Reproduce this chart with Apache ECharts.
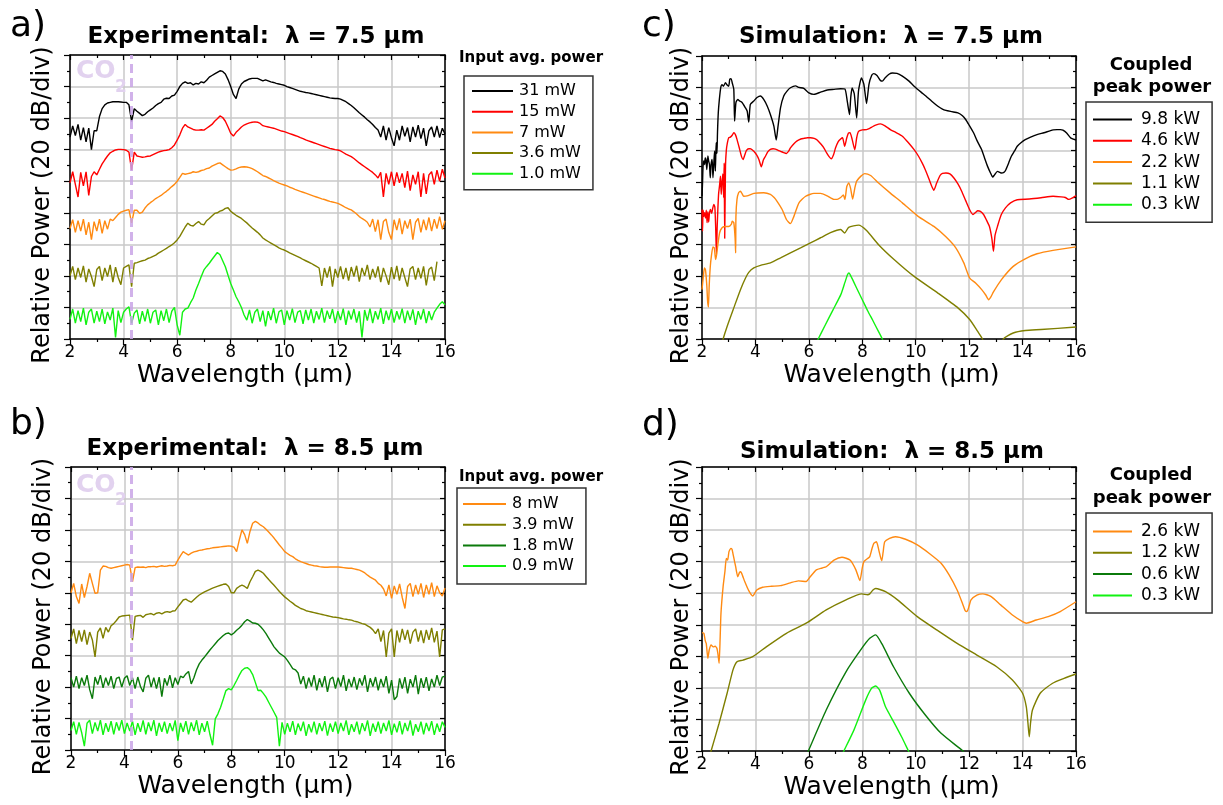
<!DOCTYPE html>
<html>
<head>
<meta charset="utf-8">
<script src="https://cdn.jsdelivr.net/npm/echarts@6/dist/echarts.min.js"></script>
<style>
  html, body { margin: 0; padding: 0; background: #fff; }
  #chart { width: 1223px; height: 805px; }
</style>
</head>
<body>
<div id="chart"></div>
<script>
// ---------------------------------------------------------------------------
// Supercontinuum spectra: measured (a, b) and simulated (c, d).
// Vertical scale is relative power in divisions of 20 dB, traces offset.
// ---------------------------------------------------------------------------
const FONT = "'DejaVu Sans', Verdana, sans-serif";

// Measured spectra are sampled on a regular wavelength grid (µm)
const WL_START = 2.0;
const WL_STEP = 0.1;
const CO2_BAND = 4.27;            // CO2 absorption line (µm)
const X_TICKS = [2, 4, 6, 8, 10, 12, 14, 16];

// ---- (a) Experimental, pump 7.5 µm ----------------------------------------
const EXP75_NAMES = ['31 mW', '15 mW', '7 mW', '3.6 mW', '1.0 mW'];
const EXP75_31MW = [
  6.4, 6.75, 6.45, 6.8, 6.3, 6.7, 6.25, 6.68, 6.0, 6.6,
  6.6, 7.05, 7.3, 7.42, 7.48, 7.5, 7.52, 7.52, 7.52, 7.51,
  7.5, 7.5, 7.42, 6.9, 7.3, 7.22, 7.15, 7.08, 7.12, 7.2,
  7.26, 7.32, 7.4, 7.46, 7.5, 7.6, 7.63, 7.62, 7.7, 7.73,
  7.85, 8.0, 8.1, 8.15, 8.1, 8.12, 8.05, 8.1, 8.08, 8.15,
  8.12, 8.2, 8.3, 8.35, 8.4, 8.45, 8.5, 8.48, 8.4, 8.22,
  8.0, 7.75, 7.62, 7.92, 8.08, 8.16, 8.2, 8.24, 8.26, 8.26,
  8.26, 8.22, 8.18, 8.21, 8.18, 8.15, 8.13, 8.1, 8.08, 8.06,
  8.04, 8.0, 7.97, 7.94, 7.91, 7.88, 7.85, 7.83, 7.81, 7.8,
  7.78, 7.76, 7.74, 7.72, 7.7, 7.68, 7.66, 7.64, 7.63, 7.62,
  7.62, 7.6, 7.56, 7.52, 7.46, 7.4, 7.33, 7.25, 7.17, 7.1,
  7.03, 6.95, 6.88, 6.8, 6.7, 6.62, 6.4, 6.75, 6.3, 6.7,
  6.38, 6.12, 6.62, 6.3, 6.75, 6.42, 6.7, 6.25, 6.72, 6.4,
  6.78, 6.35, 6.68, 6.12, 6.6, 6.72, 6.4, 6.75, 6.38, 6.68,
  6.5
];
const EXP75_15MW = [
  4.95, 5.3, 4.9, 4.5, 5.28, 4.85, 5.3, 4.55, 5.15, 5.3,
  5.2, 5.38, 5.55, 5.68, 5.8, 5.9, 5.95, 5.99, 6.01, 6.01,
  6.0, 5.98, 5.92, 5.35, 5.92, 5.8, 5.78, 5.76, 5.77, 5.79,
  5.8, 5.84, 5.88, 5.92, 5.95, 5.97, 5.98, 6.0, 6.06, 6.15,
  6.3, 6.47, 6.68, 6.8, 6.72, 6.68, 6.64, 6.62, 6.62, 6.63,
  6.62, 6.68, 6.74, 6.8, 6.9, 6.98, 7.07, 7.02, 6.9, 6.72,
  6.52, 6.43, 6.55, 6.63, 6.72, 6.78, 6.82, 6.85, 6.87, 6.88,
  6.87, 6.83, 6.76, 6.74, 6.72, 6.7, 6.68, 6.65, 6.62, 6.59,
  6.57, 6.54, 6.51, 6.48, 6.45, 6.42, 6.38, 6.35, 6.31, 6.28,
  6.25, 6.22, 6.19, 6.16, 6.13, 6.1, 6.07, 6.04, 6.02, 6.0,
  5.99, 5.96, 5.91, 5.86, 5.82, 5.78, 5.72, 5.65, 5.58, 5.52,
  5.46, 5.4, 5.34, 5.28, 5.2, 5.1, 5.28, 4.5, 5.25, 4.9,
  5.3, 4.85, 5.28, 4.95, 5.25, 4.8, 5.32, 4.7, 5.2, 4.9,
  5.3, 4.5, 5.25, 4.6, 5.2, 5.3, 4.9, 5.35, 5.0, 5.38,
  5.1
];
const EXP75_7MW = [
  3.5, 3.78, 3.38, 3.75, 3.42, 3.8, 3.3, 3.7, 3.15, 3.72,
  3.42, 3.8, 3.35, 3.75, 3.48, 3.8, 3.75, 3.85, 3.95, 4.02,
  4.05, 4.08, 4.1, 3.68, 4.08, 4.08, 3.98, 4.02, 4.15, 4.25,
  4.32, 4.38, 4.45, 4.5, 4.55, 4.62, 4.68, 4.75, 4.83, 4.9,
  5.0, 5.12, 5.25, 5.22, 5.24, 5.26, 5.3, 5.28, 5.3, 5.34,
  5.36, 5.4, 5.42, 5.48, 5.52, 5.56, 5.58, 5.52, 5.46, 5.4,
  5.35, 5.36, 5.39, 5.43, 5.45, 5.46, 5.45, 5.43, 5.4, 5.35,
  5.3, 5.24, 5.18, 5.15, 5.11, 5.07, 5.02, 4.98, 4.94, 4.91,
  4.88, 4.85, 4.81, 4.78, 4.74, 4.71, 4.68, 4.65, 4.62, 4.59,
  4.56, 4.53, 4.5, 4.47, 4.44, 4.42, 4.39, 4.36, 4.34, 4.32,
  4.3, 4.26, 4.21, 4.16, 4.12, 4.09, 4.03, 3.96, 3.88, 3.82,
  3.77, 3.7, 3.55, 3.8, 3.4, 3.78, 3.15, 3.72, 3.8, 3.38,
  3.15, 3.78, 3.45, 3.82, 3.32, 3.75, 3.5, 3.8, 3.15, 3.7,
  3.82, 3.38, 3.78, 3.45, 3.85, 3.42, 3.8, 3.5, 3.88, 3.48,
  3.75
];
const EXP75_3P6MW = [
  2.0, 2.3, 1.88, 2.25, 1.95, 2.32, 1.8, 2.22, 1.98, 1.66,
  2.2, 2.3, 1.85, 2.25, 1.98, 2.35, 1.8, 2.28, 1.95, 1.72,
  2.25, 2.3, 2.35, 1.66, 2.4, 2.42, 2.45, 2.48, 2.5, 2.55,
  2.58, 2.62, 2.66, 2.72, 2.77, 2.82, 2.87, 2.93, 2.98, 3.05,
  3.14, 3.25, 3.4, 3.55, 3.67, 3.6, 3.58, 3.66, 3.72, 3.64,
  3.62, 3.75, 3.82, 3.9, 3.98, 4.0, 4.05, 4.08, 4.14, 4.16,
  4.05, 3.98, 3.92, 3.87, 3.82, 3.75, 3.68, 3.6, 3.52, 3.45,
  3.38, 3.3, 3.2, 3.14, 3.09, 3.04, 2.99, 2.94, 2.89, 2.85,
  2.82, 2.78, 2.73, 2.69, 2.65, 2.61, 2.57, 2.52, 2.48, 2.44,
  2.4, 2.35, 2.3, 2.25, 1.68, 2.25, 1.95, 2.3, 1.66, 2.22,
  1.95, 2.3, 1.9, 2.25, 1.85, 2.28, 1.98, 2.32, 1.82, 2.25,
  2.0, 2.35, 1.88, 2.22, 1.95, 2.3, 1.8, 2.25, 2.0, 1.72,
  2.28, 1.9, 2.32, 1.85, 2.25, 1.95, 1.66, 2.22, 2.3, 1.88,
  2.25, 1.92, 2.3, 1.7, 2.2, 2.28, 1.85, 2.45, null, null,
  null
];
const EXP75_1MW = [
  0.62, 0.95, 0.5, 0.9, 0.55, 0.98, 0.45, 0.85, 0.95, 0.5,
  0.88, 0.55, 0.95, 0.48, 0.86, 0.6, 0.98, 0.05, 0.9, 0.52,
  0.85, 0.95, 1.02, 0.5, 0.82, 0.92, 0.48, 0.88, 0.56, 0.95,
  0.5, 0.85, 0.92, 0.45, 0.9, 0.58, 0.95, 0.52, 0.88, 1.0,
  0.45, 0.12, 0.85, 0.95, 0.98, 1.15, 1.3, 1.55, 1.76, 1.98,
  2.19, 2.3, 2.4, 2.52, 2.63, 2.74, 2.67, 2.48, 2.29, 2.02,
  1.76, 1.55, 1.34, 1.18, 1.0, 0.76, 0.6, 0.92, 0.5, 0.85,
  0.95, 0.55, 0.9, 0.4, 0.88, 0.6, 0.98, 0.5, 0.86, 0.92,
  0.45, 0.9, 0.6, 0.96, 0.52, 0.85, 0.9, 0.48, 0.92, 0.6,
  0.95, 0.5, 0.88, 0.62, 0.98, 0.52, 0.9, 0.64, 0.95, 0.5,
  0.88, 0.6, 0.96, 0.45, 0.9, 0.62, 0.95, 0.52, 0.88, 0.05,
  0.92, 0.58, 0.96, 0.5, 0.88, 0.62, 0.98, 0.48, 0.9, 0.6,
  0.95, 0.52, 0.88, 0.62, 0.96, 0.5, 0.9, 0.6, 0.94, 0.45,
  0.88, 0.62, 0.95, 0.5, 0.88, 0.6, 0.85, 0.98, 1.1, 1.18,
  1.08
];

// ---- (b) Experimental, pump 8.5 µm ----------------------------------------
const EXP85_NAMES = ['8 mW', '3.9 mW', '1.8 mW', '0.9 mW'];
const EXP85_8MW = [
  5.0, 5.3, 4.88, 4.66, 5.28, 4.85, 5.2, 5.62, 5.3, 4.98,
  5.0, 5.72, 5.85, 5.84, 5.8, 5.78, 5.8, 5.82, 5.84, 5.86,
  5.88, 5.9, 5.88, 5.35, 5.8, 5.82, 5.81, 5.82, 5.8, 5.83,
  5.83, 5.84, 5.82, 5.84, 5.86, 5.84, 5.85, 5.87, 5.86, 5.88,
  6.04, 6.18, 6.31, 6.25, 6.2, 6.26, 6.3, 6.32, 6.35, 6.36,
  6.38, 6.4, 6.41, 6.43, 6.44, 6.45, 6.46, 6.47, 6.48, 6.49,
  6.48, 6.45, 6.31, 6.68, 7.0, 6.85, 6.57, 6.95, 7.21, 7.27,
  7.22, 7.15, 7.1, 7.02, 6.93, 6.84, 6.74, 6.63, 6.52, 6.42,
  6.31, 6.25, 6.19, 6.15, 6.08, 6.03, 5.99, 5.96, 5.93, 5.9,
  5.88, 5.86, 5.85, 5.83, 5.82, 5.81, 5.81, 5.82, 5.82, 5.82,
  5.82, 5.81, 5.8, 5.79, 5.78, 5.78, 5.76, 5.74, 5.72, 5.68,
  5.63, 5.56, 5.5, 5.45, 5.4, 5.3, 5.24, 5.12, 4.9, 5.25,
  4.82, 5.22, 4.95, 5.28, 4.85, 4.5, 5.2, 5.3, 4.88, 5.25,
  4.95, 5.3, 4.85, 5.25, 4.95, 5.32, 4.88, 5.22, 5.0, 4.9,
  5.15
];
const EXP85_3P9MW = [
  3.55, 3.85, 3.38, 3.8, 3.45, 3.82, 3.35, 3.75, 3.5, 2.96,
  3.75, 3.88, 3.55, 3.9, 3.75, 3.95, 4.02, 4.12, 4.23, 4.26,
  4.27, 4.28, 4.29, 3.49, 4.25, 4.27, 4.28, 4.22, 4.3, 4.32,
  4.34, 4.3, 4.35, 4.37, 4.33, 4.38, 4.4, 4.38, 4.42, 4.43,
  4.55, 4.66, 4.77, 4.8, 4.74, 4.7, 4.78, 4.86, 4.93, 4.98,
  5.03, 5.07, 5.11, 5.15, 5.18, 5.21, 5.24, 5.27, 5.28, 5.2,
  5.0, 5.0, 5.14, 5.2, 5.24, 5.2, 5.14, 5.35, 5.51, 5.68,
  5.72, 5.68, 5.62, 5.52, 5.42, 5.33, 5.24, 5.14, 5.04, 4.95,
  4.87, 4.8, 4.73, 4.67, 4.6, 4.55, 4.5, 4.47, 4.43, 4.41,
  4.39, 4.37, 4.35, 4.33, 4.31, 4.29, 4.27, 4.25, 4.23, 4.22,
  4.21, 4.19, 4.17, 4.16, 4.14, 4.13, 4.1, 4.08, 4.05, 4.02,
  4.0, 3.95, 3.9, 3.82, 3.7, 3.85, 3.45, 3.8, 2.96, 3.72,
  3.85, 2.96, 3.8, 3.42, 3.85, 3.5, 3.82, 3.38, 3.75, 3.85,
  3.45, 3.8, 3.4, 3.82, 3.5, 3.88, 3.42, 3.78, 2.96, 3.82,
  3.85
];
const EXP85_1P8MW = [
  2.3, 2.0, 2.35, 1.95, 2.3, 2.05, 2.38, 1.92, 1.63, 2.32,
  2.08, 2.38, 1.98, 2.3, 2.05, 2.35, 1.95, 2.28, 2.32, 2.0,
  2.28, 2.36, 2.05, 2.3, 1.95, 2.32, 2.02, 1.85, 2.28, 2.38,
  2.0, 2.3, 1.95, 2.32, 1.7, 2.28, 2.05, 2.38, 1.98, 2.3,
  2.08, 2.35, 2.3, 2.42, 2.5, 2.1, 2.3, 2.55, 2.74, 2.86,
  2.96, 3.07, 3.18, 3.28, 3.38, 3.48, 3.56, 3.64, 3.7, 3.72,
  3.66, 3.72, 3.81, 3.88, 3.97, 4.08, 4.15, 4.1, 4.04, 4.03,
  4.0, 3.92, 3.82, 3.7, 3.56, 3.42, 3.28, 3.18, 3.08, 3.02,
  2.96, 2.85, 2.72, 2.59, 2.55, 2.45, 2.1, 2.35, 1.95, 2.3,
  2.02, 2.38, 1.9, 2.28, 2.0, 2.35, 1.85, 2.25, 2.32, 1.95,
  2.3, 2.02, 2.38, 1.88, 2.26, 2.0, 2.32, 1.92, 2.28, 2.05,
  2.38, 1.85, 2.28, 2.02, 2.32, 1.9, 2.26, 2.0, 2.35, 1.8,
  2.22, 1.6, 1.7, 2.28, 1.95, 2.32, 1.8, 2.25, 2.0, 2.38,
  1.78, 2.28, 1.98, 2.32, 1.88, 2.26, 2.0, 2.38, 2.05, 2.32,
  2.35
];
const EXP85_0P9MW = [
  0.62, 0.9, 0.5, 0.88, 0.55, 0.12, 0.85, 0.95, 0.52, 0.88,
  0.6, 0.95, 0.48, 0.85, 0.58, 0.92, 0.5, 0.88, 0.62, 0.95,
  0.52, 0.86, 0.6, 0.92, 0.48, 0.85, 0.58, 0.94, 0.5, 0.88,
  0.6, 0.95, 0.45, 0.86, 0.58, 0.9, 0.52, 0.85, 0.6, 0.94,
  0.3, 0.86, 0.58, 0.92, 0.5, 0.88, 0.6, 0.95, 0.48, 0.85,
  0.58, 0.92, 0.5, 0.15, 0.99, 1.15, 1.36, 1.62, 1.89, 1.95,
  1.91, 2.05, 2.21, 2.38, 2.53, 2.6, 2.62, 2.55, 2.4, 2.15,
  1.89, 1.9, 1.8, 1.68, 1.52, 1.36, 1.2, 1.04, 0.12, 0.88,
  0.5, 0.85, 0.58, 0.92, 0.48, 0.84, 0.6, 0.9, 0.45, 0.82,
  0.56, 0.9, 0.5, 0.85, 0.6, 0.92, 0.46, 0.84, 0.58, 0.9,
  0.52, 0.86, 0.6, 0.94, 0.48, 0.82, 0.58, 0.9, 0.5, 0.85,
  0.6, 0.94, 0.45, 0.84, 0.58, 0.9, 0.52, 0.86, 0.6, 0.94,
  0.48, 0.84, 0.56, 0.92, 0.5, 0.86, 0.6, 0.94, 0.46, 0.82,
  0.58, 0.9, 0.5, 0.86, 0.6, 0.92, 0.48, 0.84, 0.58, 0.9,
  0.72
];

// ---- (c) Simulation, pump 7.5 µm: [wavelength µm, divisions] -------------
const SIM75_NAMES = ['9.8 kW', '4.6 kW', '2.2 kW', '1.1 kW', '0.3 kW'];
const SIM75_9P8KW = [
  [2.00,4.54],[2.02,4.97],[2.04,5.5],[2.07,5.66],[2.10,5.55],[2.12,5.76],[2.15,5.7],[2.18,5.39],
  [2.22,5.82],[2.25,5.66],[2.28,5.55],[2.31,5.13],[2.34,5.55],[2.38,5.71],[2.41,5.13],[2.44,5.55],
  [2.47,5.98],[2.50,5.34],[2.53,6.24],[2.56,5.9],[2.58,6.56],[2.61,7.2],[2.65,7.62],[2.70,7.99],
  [2.75,8.09],[2.80,8.04],[2.88,8.15],[2.94,8.08],[3.00,8.04],[3.04,8.26],[3.09,8.28],[3.13,8.15],
  [3.19,7.94],[3.22,6.93],[3.27,7.52],[3.34,7.62],[3.41,7.57],[3.5,7.52],[3.62,7.36],[3.69,7.25],
  [3.75,6.9],[3.81,7.46],[3.94,7.57],[4.06,7.68],[4.19,7.73],[4.31,7.62],[4.44,7.41],[4.56,7.14],
  [4.69,6.77],[4.78,6.33],[4.84,6.72],[4.94,7.36],[5.06,7.73],[5.19,7.89],[5.31,7.99],[5.5,8.05],
  [5.63,8.0],[5.81,7.97],[6.0,7.83],[6.19,7.78],[6.44,7.85],[6.69,7.92],[6.94,7.94],[7.19,7.96],
  [7.35,7.95],[7.44,7.55],[7.52,7.14],[7.57,7.7],[7.62,7.98],[7.7,7.8],[7.79,7.03],[7.86,7.9],
  [7.97,8.3],[8.06,8.1],[8.16,7.49],[8.25,8.1],[8.35,8.38],[8.43,8.44],[8.55,8.38],[8.68,8.22],
  [8.75,8.2],[8.85,8.3],[9.0,8.42],[9.13,8.46],[9.3,8.45],[9.5,8.36],[9.75,8.2],[9.94,8.04],
  [10.2,7.85],[10.39,7.72],[10.6,7.56],[10.83,7.4],[11.0,7.31],[11.13,7.27],[11.35,7.23],[11.58,7.19],
  [11.75,7.1],[11.87,6.98],[12.0,6.8],[12.17,6.55],[12.3,6.3],[12.47,6.02],[12.6,5.7],[12.69,5.49],
  [12.8,5.28],[12.88,5.15],[12.95,5.22],[13.06,5.33],[13.15,5.3],[13.21,5.28],[13.3,5.3],[13.36,5.36],
  [13.48,5.6],[13.58,5.81],[13.7,5.98],[13.8,6.13],[13.95,6.25],[14.1,6.34],[14.3,6.42],[14.54,6.5],
  [14.8,6.56],[14.99,6.61],[15.15,6.65],[15.29,6.66],[15.42,6.66],[15.51,6.64],[15.65,6.55],[15.81,6.39],
  [16.0,6.33]
];
const SIM75_4P6KW = [
  [2.0,4.12],[2.02,3.43],[2.04,4.1],[2.07,3.9],[2.10,4.02],[2.13,3.85],[2.16,4.1],[2.19,3.7],
  [2.22,4.05],[2.25,3.72],[2.28,4.0],[2.32,4.12],[2.36,4.0],[2.40,4.15],[2.44,4.28],[2.48,4.2],
  [2.51,3.6],[2.54,2.69],[2.57,3.6],[2.62,4.6],[2.66,4.9],[2.69,5.18],[2.72,4.6],[2.75,5.0],
  [2.78,5.25],[2.81,4.5],[2.83,5.6],[2.85,3.2],[2.88,5.5],[2.91,6.0],[2.95,6.24],[3.0,6.4],
  [3.06,6.42],[3.13,6.48],[3.19,6.56],[3.25,6.5],[3.31,6.35],[3.41,6.03],[3.48,5.8],[3.54,5.71],
  [3.6,5.85],[3.66,5.99],[3.75,6.05],[3.81,6.05],[3.94,5.97],[4.05,5.85],[4.13,5.71],[4.22,5.48],
  [4.3,5.7],[4.38,5.82],[4.46,5.95],[4.56,6.03],[4.66,6.05],[4.75,6.04],[4.85,6.0],[4.94,5.97],
  [5.05,5.93],[5.16,5.9],[5.25,5.98],[5.31,6.08],[5.45,6.22],[5.56,6.3],[5.7,6.36],[5.81,6.38],
  [5.95,6.4],[6.06,6.4],[6.2,6.38],[6.31,6.33],[6.45,6.2],[6.56,6.08],[6.66,5.93],[6.75,5.81],
  [6.84,5.73],[6.92,5.85],[7.0,6.08],[7.1,6.28],[7.19,6.36],[7.26,6.4],[7.34,6.13],[7.42,6.4],
  [7.48,6.55],[7.54,6.56],[7.62,6.35],[7.72,6.02],[7.79,6.4],[7.86,6.6],[8.0,6.65],[8.16,6.66],
  [8.28,6.7],[8.38,6.75],[8.5,6.8],[8.68,6.84],[8.85,6.78],[9.05,6.66],[9.25,6.57],[9.5,6.45],
  [9.72,6.25],[9.94,6.02],[10.1,5.82],[10.24,5.6],[10.35,5.4],[10.46,5.17],[10.57,4.92],[10.68,4.73],
  [10.78,4.95],[10.91,5.2],[11.0,5.27],[11.13,5.28],[11.28,5.25],[11.43,5.12],[11.58,4.93],[11.72,4.7],
  [11.87,4.4],[12.02,4.11],[12.14,3.96],[12.25,4.03],[12.32,4.08],[12.42,4.06],[12.54,3.96],[12.65,3.78],
  [12.76,3.58],[12.85,3.2],[12.91,2.79],[12.97,3.3],[13.06,3.58],[13.2,3.95],[13.36,4.17],[13.55,4.33],
  [13.8,4.43],[14.25,4.45],[14.69,4.49],[15.14,4.54],[15.44,4.52],[15.6,4.5],[15.73,4.44],[15.85,4.48],
  [16.0,4.56]
];
const SIM75_2P2KW = [
  [2.0,1.57],[2.04,1.9],[2.09,2.26],[2.13,2.2],[2.18,1.7],[2.21,1.2],[2.24,1.02],[2.27,1.7],
  [2.31,2.3],[2.35,2.63],[2.41,2.93],[2.46,2.9],[2.51,2.53],[2.55,2.7],[2.59,2.98],[2.66,3.38],
  [2.75,3.54],[2.88,3.58],[3.0,3.58],[3.1,3.65],[3.13,3.75],[3.19,3.7],[3.24,3.2],[3.26,2.74],
  [3.27,3.9],[3.31,4.44],[3.37,4.65],[3.44,4.7],[3.5,4.62],[3.56,4.54],[3.69,4.55],[3.94,4.63],
  [4.31,4.65],[4.56,4.6],[4.7,4.5],[4.81,4.38],[5.0,4.12],[5.16,3.8],[5.31,3.67],[5.44,3.9],
  [5.63,4.33],[5.88,4.54],[6.19,4.63],[6.44,4.63],[6.69,4.55],[6.94,4.44],[7.06,4.44],[7.19,4.5],
  [7.29,4.58],[7.35,4.44],[7.42,4.85],[7.49,4.96],[7.56,4.8],[7.64,4.45],[7.72,4.8],[7.79,5.02],
  [7.95,5.18],[8.09,5.26],[8.31,5.2],[8.61,4.96],[9.05,4.64],[9.5,4.33],[10.09,3.9],[10.68,3.58],
  [11.13,3.25],[11.5,2.9],[11.8,2.42],[12.02,1.94],[12.24,1.78],[12.47,1.57],[12.62,1.4],[12.73,1.25],
  [12.82,1.35],[12.91,1.5],[13.21,1.89],[13.65,2.31],[14.1,2.55],[14.54,2.71],[15.14,2.82],[16.0,2.93]
];
const SIM75_1P1KW = [
  [2.7,-0.3],[2.79,0.0],[2.94,0.4],[3.19,0.99],[3.44,1.57],[3.63,1.94],[3.75,2.12],[3.94,2.26],
  [4.19,2.34],[4.56,2.42],[4.94,2.58],[5.31,2.74],[5.69,2.9],[6.06,3.06],[6.44,3.22],[6.81,3.38],
  [7.19,3.48],[7.34,3.37],[7.49,3.55],[7.86,3.62],[8.16,3.45],[8.61,3.0],[9.2,2.52],[9.94,1.99],
  [10.83,1.46],[11.58,0.99],[12.02,0.62],[12.32,0.24],[12.5,0.0],[12.6,-0.3],[12.9,-1.0],[13.2,-0.3],
  [13.28,0.0],[13.65,0.19],[14.1,0.27],[14.69,0.3],[16.0,0.38]
];
const SIM75_0P3KW = [
  [6.3,-0.1],[6.35,0.0],[6.6,0.42],[6.9,0.92],[7.2,1.42],[7.35,1.8],[7.45,2.05],[7.5,2.1],
  [7.6,1.95],[7.8,1.6],[8.0,1.25],[8.2,0.9],[8.4,0.58],[8.6,0.25],[8.75,0.0],[8.8,-0.1]
];

// ---- (d) Simulation, pump 8.5 µm -------------------------------------------
const SIM85_NAMES = ['2.6 kW', '1.2 kW', '0.6 kW', '0.3 kW'];
const SIM85_2P6KW = [
  [2.0,3.75],[2.07,3.73],[2.12,3.5],[2.16,3.4],[2.22,2.94],[2.27,3.2],[2.34,3.36],[2.42,3.3],
  [2.49,3.32],[2.56,3.25],[2.6,3.05],[2.64,2.78],[2.68,3.6],[2.71,4.36],[2.79,5.21],[2.86,5.7],
  [2.91,6.1],[2.96,6.05],[3.01,6.32],[3.08,6.42],[3.12,6.4],[3.16,6.25],[3.22,6.0],[3.26,5.84],
  [3.34,5.52],[3.4,5.65],[3.45,5.68],[3.52,5.55],[3.6,5.37],[3.75,5.08],[3.9,4.91],[4.05,5.1],
  [4.27,5.19],[4.6,5.22],[4.94,5.24],[5.31,5.33],[5.61,5.39],[5.9,5.37],[6.05,5.52],[6.28,5.74],
  [6.5,5.8],[6.65,5.84],[6.94,6.05],[7.24,6.14],[7.54,6.05],[7.76,5.74],[7.91,5.4],[8.0,5.8],
  [8.06,6.0],[8.2,6.1],[8.28,6.16],[8.36,6.4],[8.43,6.58],[8.53,6.63],[8.62,6.36],[8.68,6.15],
  [8.73,6.03],[8.78,6.3],[8.84,6.63],[9.02,6.74],[9.24,6.79],[9.62,6.71],[10.06,6.53],[10.51,6.26],
  [10.95,5.95],[11.25,5.58],[11.55,5.1],[11.77,4.63],[11.85,4.45],[11.92,4.42],[12.0,4.6],[12.07,4.79],
  [12.29,4.94],[12.51,4.98],[12.81,4.9],[13.18,4.63],[13.62,4.31],[14.0,4.1],[14.14,4.05],[14.51,4.15],
  [14.96,4.26],[15.41,4.42],[16.0,4.73]
];
const SIM85_1P2KW = [
  [2.3,-0.1],[2.34,0.0],[2.64,0.88],[2.94,1.83],[3.16,2.57],[3.31,2.83],[3.53,2.88],[3.9,2.99],
  [4.42,3.31],[5.16,3.73],[5.9,4.05],[6.65,4.47],[7.39,4.79],[7.98,4.98],[8.2,4.95],[8.28,4.98],
  [8.4,5.1],[8.5,5.15],[8.87,5.05],[9.32,4.79],[10.06,4.26],[10.8,3.83],[11.55,3.41],[12.29,3.04],
  [13.03,2.67],[13.62,2.25],[14.0,1.83],[14.14,1.4],[14.2,0.9],[14.25,0.45],[14.3,0.9],[14.37,1.3],
  [14.66,1.83],[15.11,2.14],[15.55,2.3],[16.0,2.44]
];
const SIM85_0P6KW = [
  [5.95,-0.05],[5.98,0.0],[6.65,1.3],[7.39,2.51],[7.98,3.25],[8.28,3.57],[8.5,3.68],[8.73,3.4],
  [9.17,2.67],[9.76,1.83],[10.36,1.14],[10.95,0.56],[11.77,0.0],[11.8,-0.05]
];
const SIM85_0P3KW = [
  [7.28,-0.05],[7.31,0.0],[7.69,0.67],[8.13,1.62],[8.35,1.99],[8.5,2.06],[8.65,1.93],[8.87,1.4],
  [9.17,0.93],[9.47,0.45],[9.73,0.0],[9.76,-0.05]
];

// ---- trace colours ---------------------------------------------------------
const C_BLACK = '#000000';
const C_RED = '#ff0000';
const C_ORANGE = '#ff8a12';
const C_OLIVE = '#7f7f00';
const C_LIME = '#12f212';
const C_GREEN = '#0b7a0b';

// ---------------------------------------------------------------------------
const GRIDS = [
  { left: 70, top: 55, width: 375, height: 284 },    // a
  { left: 71, top: 467, width: 374, height: 283 },   // b
  { left: 702, top: 56, width: 374, height: 283 },   // c
  { left: 702, top: 467, width: 374, height: 284 }   // d
];

const AXIS_LINE = { show: true, onZero: false, lineStyle: { color: '#000', width: 1.5 } };
const TICK_STYLE = { color: '#000', width: 1.2 };

function xAxesFor(gi, namePad) {
  return [
    {
      gridIndex: gi, type: 'value', position: 'bottom', min: 2, max: 16, interval: 2,
      axisLine: AXIS_LINE,
      axisTick: { show: true, inside: false, length: 6, lineStyle: TICK_STYLE },
      minorTick: { show: true, splitNumber: 2, length: 3, lineStyle: TICK_STYLE },
      splitLine: { show: true, lineStyle: { color: '#c9c9c9', width: 1.5 } },
      minorSplitLine: { show: false },
      axisLabel: { show: true, color: '#000', fontSize: 17, fontFamily: FONT, margin: 5,
                   formatter: v => (X_TICKS.indexOf(v) >= 0 ? String(v) : '') },
      name: 'Wavelength (μm)', nameLocation: 'middle', nameGap: 24,
      nameTextStyle: { color: '#000', fontSize: 25, fontFamily: FONT, padding: namePad }
    },
    {
      gridIndex: gi, type: 'value', position: 'top', min: 2, max: 16, interval: 2,
      axisLine: AXIS_LINE,
      axisTick: { show: true, inside: true, length: 5, lineStyle: TICK_STYLE },
      minorTick: { show: true, splitNumber: 2, length: 3, lineStyle: TICK_STYLE },
      splitLine: { show: false }, axisLabel: { show: false }
    }
  ];
}

function yAxesFor(gi, nameGap) {
  return [
    {
      gridIndex: gi, type: 'value', position: 'left', min: 0, max: 9, interval: 1,
      axisLine: AXIS_LINE,
      axisTick: { show: true, inside: false, length: 6, lineStyle: TICK_STYLE },
      minorTick: { show: true, splitNumber: 2, length: 3, lineStyle: TICK_STYLE },
      splitLine: { show: true, lineStyle: { color: '#c9c9c9', width: 1.5 } },
      minorSplitLine: { show: false },
      axisLabel: { show: false },
      name: 'Relative Power (20 dB/div)', nameLocation: 'middle', nameGap: nameGap,
      nameTextStyle: { color: '#000', fontSize: 24, fontFamily: FONT, padding: [0, 16, 0, 0] }
    },
    {
      gridIndex: gi, type: 'value', position: 'right', min: 0, max: 9, interval: 1,
      axisLine: AXIS_LINE,
      axisTick: { show: true, inside: true, length: 5, lineStyle: TICK_STYLE },
      minorTick: { show: true, splitNumber: 2, length: 3, lineStyle: TICK_STYLE },
      splitLine: { show: false }, axisLabel: { show: false }
    }
  ];
}

function sampled(values) {
  return values.map((v, i) => [+(WL_START + i * WL_STEP).toFixed(2), v]);
}

function trace(name, data, color, gi, extra) {
  return Object.assign({
    type: 'line', name: name, data: data,
    xAxisIndex: gi * 2, yAxisIndex: gi * 2,
    showSymbol: false, symbol: 'none', clip: true, connectNulls: false,
    itemStyle: { color: color },
    lineStyle: { color: color, width: 1.4 },
    emphasis: { disabled: true }, animation: false
  }, extra || {});
}

const co2Marker = {
  markLine: {
    silent: true, symbol: ['none', 'none'], animation: false,
    label: { show: false }, emphasis: { disabled: true },
    lineStyle: { color: '#c9a4e6', width: 3, type: [9, 5], opacity: 0.85 },
    data: [{ xAxis: CO2_BAND }]
  }
};
const simStyle = { smooth: 0.2 };

const series = [
  // (a)
  trace(EXP75_NAMES[0], sampled(EXP75_31MW), C_BLACK, 0, co2Marker),
  trace(EXP75_NAMES[1], sampled(EXP75_15MW), C_RED, 0),
  trace(EXP75_NAMES[2], sampled(EXP75_7MW), C_ORANGE, 0),
  trace(EXP75_NAMES[3], sampled(EXP75_3P6MW), C_OLIVE, 0),
  trace(EXP75_NAMES[4], sampled(EXP75_1MW), C_LIME, 0),
  // (b)
  trace(EXP85_NAMES[0], sampled(EXP85_8MW), C_ORANGE, 1, co2Marker),
  trace(EXP85_NAMES[1], sampled(EXP85_3P9MW), C_OLIVE, 1),
  trace(EXP85_NAMES[2], sampled(EXP85_1P8MW), C_GREEN, 1),
  trace(EXP85_NAMES[3], sampled(EXP85_0P9MW), C_LIME, 1),
  // (c)
  trace(SIM75_NAMES[0], SIM75_9P8KW, C_BLACK, 2, simStyle),
  trace(SIM75_NAMES[1], SIM75_4P6KW, C_RED, 2, simStyle),
  trace(SIM75_NAMES[2], SIM75_2P2KW, C_ORANGE, 2, simStyle),
  trace(SIM75_NAMES[3], SIM75_1P1KW, C_OLIVE, 2, simStyle),
  trace(SIM75_NAMES[4], SIM75_0P3KW, C_LIME, 2, simStyle),
  // (d)
  trace(SIM85_NAMES[0], SIM85_2P6KW, C_ORANGE, 3, simStyle),
  trace(SIM85_NAMES[1], SIM85_1P2KW, C_OLIVE, 3, simStyle),
  trace(SIM85_NAMES[2], SIM85_0P6KW, C_GREEN, 3, simStyle),
  trace(SIM85_NAMES[3], SIM85_0P3KW, C_LIME, 3, simStyle)
];

function legendBox(names, left, top, fontSize, itemWidth, itemGap, padding, textPad) {
  return {
    data: names, orient: 'vertical', left: left, top: top,
    icon: 'rect', itemWidth: itemWidth, itemHeight: 2, itemGap: itemGap,
    selectedMode: false, padding: padding,
    borderColor: '#333', borderWidth: 1.5, borderRadius: 0, backgroundColor: '#fff',
    itemStyle: { borderWidth: 0 },
    textStyle: { color: '#000', fontSize: fontSize, lineHeight: fontSize, fontFamily: FONT,
                 padding: textPad }
  };
}

function txt(x, y, text, size, weight, align, color) {
  return {
    type: 'text', x: x, y: y, silent: true, z: 10,
    style: {
      text: text, fill: color || '#000',
      font: weight + ' ' + size + 'px ' + FONT,
      align: align, verticalAlign: 'middle',
      textAlign: align, textVerticalAlign: 'middle'
    }
  };
}

const CO2_COLOR = '#e2d2ef';

const option = {
  backgroundColor: '#ffffff',
  animation: false,
  textStyle: { fontFamily: FONT },
  grid: GRIDS.map(g => Object.assign({ containLabel: false, outerBoundsMode: 'none' }, g)),
  xAxis: [].concat(xAxesFor(0, [0, 25, 0, 0]), xAxesFor(1, [0, 25, 0, 0]),
                   xAxesFor(2, [0, 0, 0, 5]), xAxesFor(3, [0, 0, 0, 5])),
  yAxis: [].concat(yAxesFor(0, 15), yAxesFor(1, 15), yAxesFor(2, 8), yAxesFor(3, 8)),
  legend: [
    legendBox(EXP75_NAMES, 464, 76, 16, 41, 4.7, [7, 12, 8, 8], [0, 0, 0, 1]),
    legendBox(EXP85_NAMES, 457, 488, 16, 43, 4.7, [8, 12, 10, 6], [0, 0, 0, 1]),
    legendBox(SIM75_NAMES, 1086, 102, 17, 39, 4.3, [9, 12, 9, 7], [0, 0, 0, 4]),
    legendBox(SIM85_NAMES, 1086, 513, 17, 39, 4.3, [10, 12, 9, 7], [0, 0, 0, 4])
  ],
  series: series,
  graphic: { elements: [
    // panel letters
    txt(10, 27, 'a)', 36, 'normal', 'left'),
    txt(10, 425, 'b)', 36, 'normal', 'left'),
    txt(642, 27, 'c)', 36, 'normal', 'left'),
    txt(642, 426, 'd)', 36, 'normal', 'left'),
    // panel titles
    txt(256, 37, 'Experimental:  λ = 7.5 μm', 23, 'bold', 'center'),
    txt(255, 449, 'Experimental:  λ = 8.5 μm', 23, 'bold', 'center'),
    txt(891, 37, 'Simulation:  λ = 7.5 μm', 23, 'bold', 'center'),
    txt(892, 452, 'Simulation:  λ = 8.5 μm', 23, 'bold', 'center'),
    // legend headings
    txt(531, 58, 'Input avg. power', 15, 'bold', 'center'),
    txt(531, 477, 'Input avg. power', 15, 'bold', 'center'),
    txt(1151, 65, 'Coupled', 18, 'bold', 'center'),
    txt(1152, 87, 'peak power', 18, 'bold', 'center'),
    txt(1151, 475, 'Coupled', 18, 'bold', 'center'),
    txt(1152, 498, 'peak power', 18, 'bold', 'center'),
    // CO2 absorption annotation
    txt(76, 71, 'CO', 25, 'bold', 'left', CO2_COLOR),
    txt(115, 88, '2', 17, 'bold', 'left', CO2_COLOR),
    txt(76, 485, 'CO', 25, 'bold', 'left', CO2_COLOR),
    txt(115, 501, '2', 17, 'bold', 'left', CO2_COLOR)
  ] }
};

const chart = echarts.init(document.getElementById('chart'), null, { renderer: 'canvas' });
chart.setOption(option);
</script>
</body>
</html>
